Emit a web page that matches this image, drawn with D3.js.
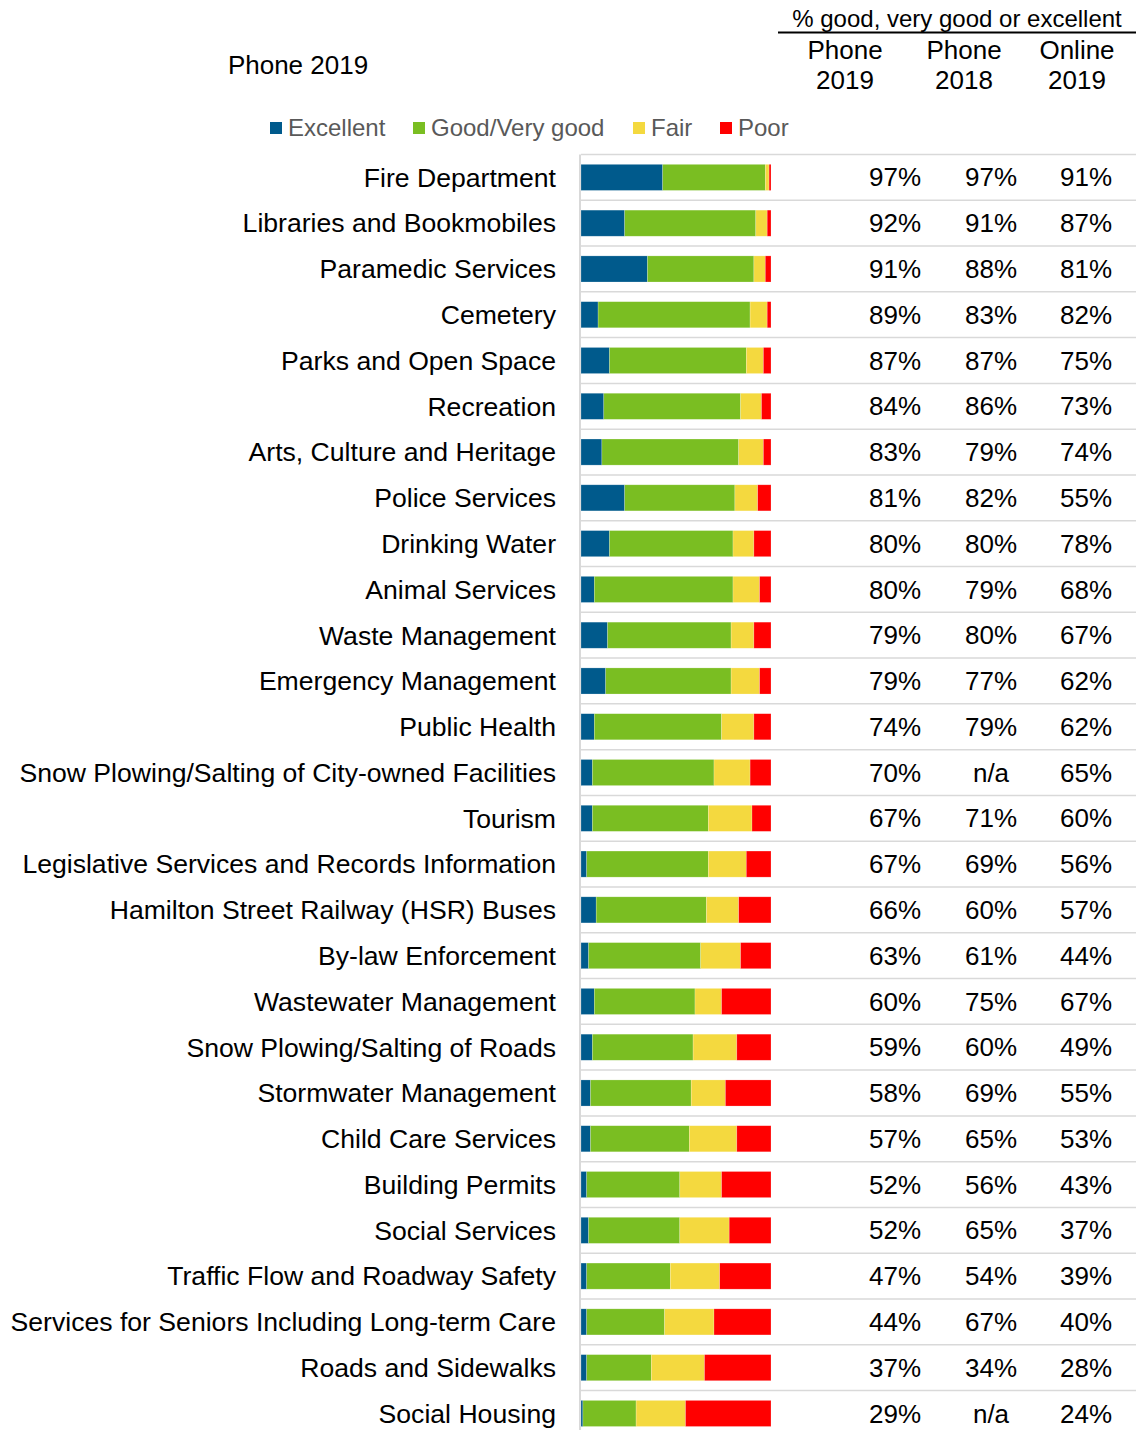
<!DOCTYPE html>
<html>
<head>
<meta charset="utf-8">
<script src="https://cdn.jsdelivr.net/npm/d3@7"></script>
<style>
  body { margin: 0; background: #fff; }
  text { font-family: "Liberation Sans", Arial, sans-serif; }
</style>
</head>
<body>
<div id="chart"></div>
<script>
// services, top to bottom
const services = [
  "Fire Department", "Libraries and Bookmobiles", "Paramedic Services", "Cemetery",
  "Parks and Open Space", "Recreation", "Arts, Culture and Heritage", "Police Services",
  "Drinking Water", "Animal Services", "Waste Management", "Emergency Management",
  "Public Health", "Snow Plowing/Salting of City-owned Facilities", "Tourism",
  "Legislative Services and Records Information", "Hamilton Street Railway (HSR) Buses",
  "By-law Enforcement", "Wastewater Management", "Snow Plowing/Salting of Roads",
  "Stormwater Management", "Child Care Services", "Building Permits", "Social Services",
  "Traffic Flow and Roadway Safety", "Services for Seniors Including Long-term Care",
  "Roads and Sidewalks", "Social Housing"
];

// stacked shares (phone 2019)
const excellent = [43, 23, 35, 9, 15, 12, 11, 23, 15, 7, 14, 13, 7, 6, 6, 3, 8, 4, 7, 6, 5, 5, 3, 4, 3, 3, 3, 1];
const goodVeryGood = [54, 69, 56, 80, 72, 72, 72, 58, 65, 73, 65, 66, 67, 64, 61, 64, 58, 59, 53, 53, 53, 52, 49, 48, 44, 41, 34, 28];
const fair = [2, 6, 6, 9, 9, 11, 13, 12, 11, 14, 12, 15, 17, 19, 23, 20, 17, 21, 14, 23, 18, 25, 22, 26, 26, 26, 28, 26];
const poor = [1, 2, 3, 2, 4, 5, 4, 7, 9, 6, 9, 6, 9, 11, 10, 13, 17, 16, 26, 18, 24, 18, 26, 22, 27, 30, 35, 45];

// % good, very good or excellent columns
const phone2019 = [97, 92, 91, 89, 87, 84, 83, 81, 80, 80, 79, 79, 74, 70, 67, 67, 66, 63, 60, 59, 58, 57, 52, 52, 47, 44, 37, 29];
const phone2018 = [97, 91, 88, 83, 87, 86, 79, 82, 80, 79, 80, 77, 79, null, 71, 69, 60, 61, 75, 60, 69, 65, 56, 65, 54, 67, 34, null];
const online2019 = [91, 87, 81, 82, 75, 73, 74, 55, 78, 68, 67, 62, 62, 65, 60, 56, 57, 44, 67, 49, 55, 53, 43, 37, 39, 40, 28, 24];

const keys = ["Excellent", "Good/Very good", "Fair", "Poor"];
const colors = ["#005a8c", "#7abe22", "#f4d93f", "#ff0000"];

const columns = [
  { top: "Phone", bottom: "2019", values: phone2019 },
  { top: "Phone", bottom: "2018", values: phone2018 },
  { top: "Online", bottom: "2019", values: online2019 }
];

const width = 1136, height = 1430;
const svg = d3.select("#chart").append("svg")
  .attr("width", width)
  .attr("height", height);

const rowTop = 154.5, rowStep = 45.78;
const y = d3.scaleBand()
  .domain(services)
  .range([rowTop, rowTop + rowStep * services.length])
  .paddingInner(0.43)
  .paddingOuter(0.215);

const x = d3.scaleLinear().domain([0, 100]).range([581, 771]);
const color = d3.scaleOrdinal().domain(keys).range(colors);

const table = services.map((s, i) => ({
  service: s,
  "Excellent": excellent[i],
  "Good/Very good": goodVeryGood[i],
  "Fair": fair[i],
  "Poor": poor[i]
}));
const series = d3.stack().keys(keys)(table);

// row separators
svg.append("g")
  .selectAll("line")
  .data(d3.range(services.length + 1))
  .join("line")
  .attr("x1", 581).attr("x2", width)
  .attr("y1", i => rowTop + i * rowStep)
  .attr("y2", i => rowTop + i * rowStep)
  .attr("stroke", "#d9d9d9")
  .attr("stroke-width", 1.5);

// left axis line
svg.append("line")
  .attr("x1", 580).attr("x2", 580)
  .attr("y1", rowTop).attr("y2", height)
  .attr("stroke", "#d9d9d9")
  .attr("stroke-width", 2);

// bars
svg.append("g")
  .selectAll("g")
  .data(series)
  .join("g")
  .attr("fill", d => color(d.key))
  .selectAll("rect")
  .data(d => d)
  .join("rect")
  .attr("x", d => x(d[0]))
  .attr("width", d => x(d[1]) - x(d[0]))
  .attr("y", d => y(d.data.service))
  .attr("height", y.bandwidth())
  .attr("stroke", "rgba(255,255,255,0.35)")
  .attr("stroke-width", 0.6);

// service labels
svg.append("g")
  .selectAll("text")
  .data(services)
  .join("text")
  .attr("x", 556)
  .attr("y", d => y(d) + y.bandwidth() / 2)
  .attr("dy", "0.35em")
  .attr("text-anchor", "end")
  .attr("font-size", 26.6)
  .attr("fill", "#000")
  .text(d => d);

// percentage columns
const valX = [895, 991, 1086];
const headX = [845, 964, 1077];
columns.forEach((col, c) => {
  svg.append("g")
    .selectAll("text")
    .data(col.values)
    .join("text")
    .attr("x", valX[c])
    .attr("y", (d, i) => y(services[i]) + y.bandwidth() / 2)
    .attr("dy", "0.35em")
    .attr("text-anchor", "middle")
    .attr("font-size", 26)
    .text(d => d == null ? "n/a" : d + "%");

  svg.append("text")
    .attr("x", headX[c]).attr("y", 50)
    .attr("dy", "0.35em")
    .attr("text-anchor", "middle")
    .attr("font-size", 26)
    .text(col.top);
  svg.append("text")
    .attr("x", headX[c]).attr("y", 80)
    .attr("dy", "0.35em")
    .attr("text-anchor", "middle")
    .attr("font-size", 26)
    .text(col.bottom);
});

// header over columns
svg.append("text")
  .attr("x", 957).attr("y", 19)
  .attr("dy", "0.35em")
  .attr("text-anchor", "middle")
  .attr("font-size", 24)
  .text("% good, very good or excellent");
svg.append("line")
  .attr("x1", 778).attr("x2", width)
  .attr("y1", 32.5).attr("y2", 32.5)
  .attr("stroke", "#000")
  .attr("stroke-width", 2);

// title
svg.append("text")
  .attr("x", 298).attr("y", 65)
  .attr("dy", "0.35em")
  .attr("text-anchor", "middle")
  .attr("font-size", 26)
  .text("Phone 2019");

// legend
const legendX = [270, 413, 633, 720];
const legend = svg.append("g")
  .selectAll("g")
  .data(keys)
  .join("g")
  .attr("transform", (d, i) => `translate(${legendX[i]},128)`);
legend.append("rect")
  .attr("x", 0).attr("y", -6)
  .attr("width", 12).attr("height", 12)
  .attr("fill", d => color(d));
legend.append("text")
  .attr("x", 18).attr("y", 0)
  .attr("dy", "0.35em")
  .attr("font-size", 24)
  .attr("fill", "#595959")
  .text(d => d);
</script>
</body>
</html>
